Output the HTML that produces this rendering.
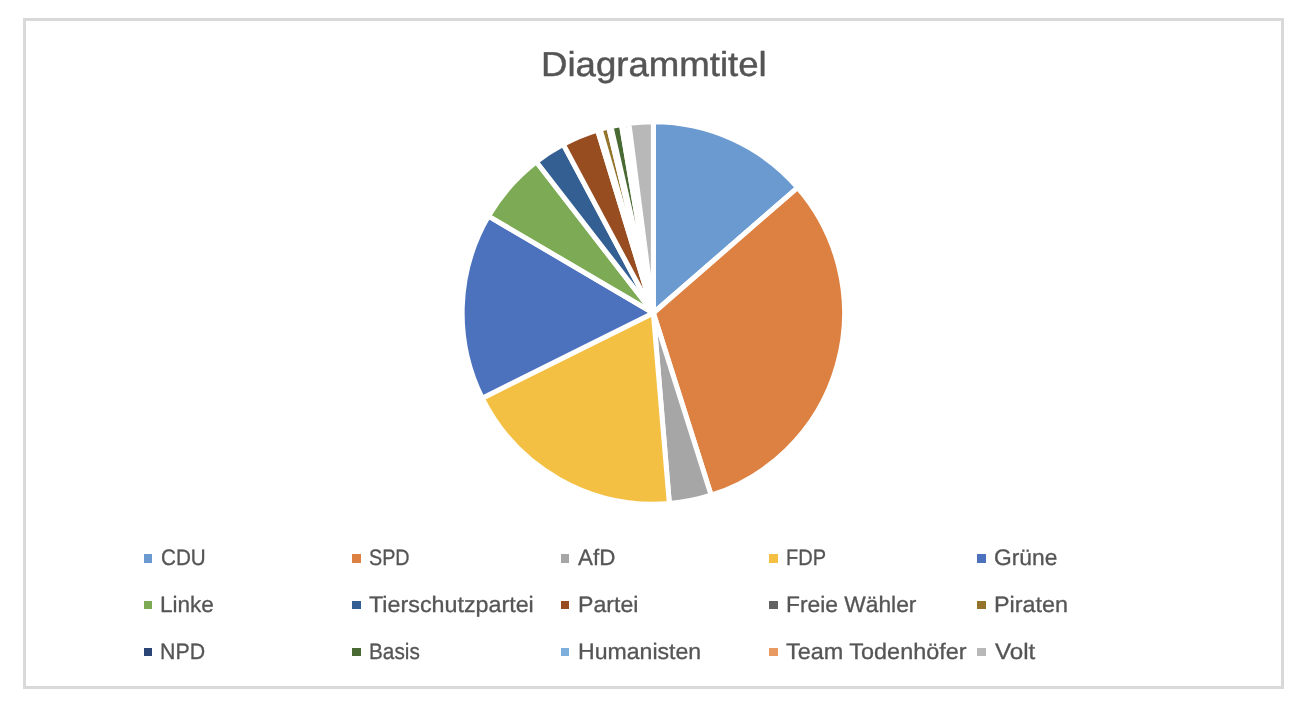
<!DOCTYPE html>
<html lang="de"><head><meta charset="utf-8"><title>Diagrammtitel</title>
<style>
html,body{margin:0;padding:0;background:#fff}
body{width:1308px;height:706px;position:relative;overflow:hidden;font-family:"Liberation Sans",sans-serif;color:#555}
#chart{position:absolute;left:23px;top:18px;width:1255px;height:665px;border:3px solid #d9d9d9;background:#fff}
svg{position:absolute;left:0;top:0}
.m{position:absolute;display:block}
.l,.t{position:absolute;white-space:nowrap;text-rendering:geometricPrecision;line-height:1;transform-origin:0 100%;display:block}
.l{font-size:22.4px;height:22.4px;-webkit-text-stroke:0.3px #555}
.t{font-size:34.6px;height:34.6px;-webkit-text-stroke:0.45px #555}
</style></head>
<body>
<div id="chart"></div>
<svg width="1308" height="706" viewBox="0 0 1308 706">
<g stroke="#fff" stroke-width="5.0" stroke-linejoin="round">
<path d="M653.35 313.00L653.35 121.80A191.20 191.20 0 0 1 797.65 187.56Z" fill="#6a9ad0"/>
<path d="M653.35 313.00L797.65 187.56A191.20 191.20 0 0 1 711.16 495.25Z" fill="#dc8142"/>
<path d="M653.35 313.00L711.16 495.25A191.20 191.20 0 0 1 669.35 503.53Z" fill="#a6a6a6"/>
<path d="M653.35 313.00L669.35 503.53A191.20 191.20 0 0 1 482.16 398.16Z" fill="#f4c043"/>
<path d="M653.35 313.00L482.16 398.16A191.20 191.20 0 0 1 488.52 216.10Z" fill="#4c72be"/>
<path d="M653.35 313.00L488.52 216.10A191.20 191.20 0 0 1 536.32 161.80Z" fill="#7dab55"/>
<path d="M653.35 313.00L536.32 161.80A191.20 191.20 0 0 1 563.29 144.34Z" fill="#335f93"/>
<path d="M653.35 313.00L563.29 144.34A191.20 191.20 0 0 1 597.54 130.13Z" fill="#984d20"/>
<path d="M653.35 313.00L597.54 130.13A191.20 191.20 0 0 1 600.20 129.34Z" fill="#636363"/>
<path d="M653.35 313.00L600.20 129.34A191.20 191.20 0 0 1 608.68 127.09Z" fill="#94732a"/>
<path d="M653.35 313.00L608.68 127.09A191.20 191.20 0 0 1 610.96 126.56Z" fill="#2c4577"/>
<path d="M653.35 313.00L610.96 126.56A191.20 191.20 0 0 1 621.43 124.48Z" fill="#4a6a33"/>
<path d="M653.35 313.00L621.43 124.48A191.20 191.20 0 0 1 623.70 124.11Z" fill="#7eaedb"/>
<path d="M653.35 313.00L623.70 124.11A191.20 191.20 0 0 1 628.89 123.37Z" fill="#e89a62"/>
<path d="M653.35 313.00L628.89 123.37A191.20 191.20 0 0 1 653.35 121.80Z" fill="#b8b8b8"/>
</g>
</svg>
<span class="t" style="left:541.03px;top:83.00px;transform:translateY(-100%) scaleX(1.0582)">Diagrammtitel</span>
<i class="m" style="left:144px;top:554px;width:8px;height:9px;background:#6a9ad0"></i>
<span class="l" style="left:160.58px;top:569.00px;transform:translateY(-100%) scaleX(0.9213)">CDU</span>
<i class="m" style="left:352px;top:554px;width:9px;height:9px;background:#dc8142"></i>
<span class="l" style="left:368.56px;top:569.00px;transform:translateY(-100%) scaleX(0.8823)">SPD</span>
<i class="m" style="left:561px;top:554px;width:8px;height:9px;background:#a6a6a6"></i>
<span class="l" style="left:578.11px;top:569.00px;transform:translateY(-100%) scaleX(0.9986)">AfD</span>
<i class="m" style="left:769px;top:554px;width:9px;height:9px;background:#f4c043"></i>
<span class="l" style="left:785.90px;top:569.00px;transform:translateY(-100%) scaleX(0.8927)">FDP</span>
<i class="m" style="left:977px;top:554px;width:9px;height:9px;background:#4c72be"></i>
<span class="l" style="left:994.44px;top:569.00px;transform:translateY(-100%) scaleX(1.0176)">Grüne</span>
<i class="m" style="left:144px;top:601px;width:8px;height:8px;background:#7dab55"></i>
<span class="l" style="left:159.95px;top:616.00px;transform:translateY(-100%) scaleX(1.0058)">Linke</span>
<i class="m" style="left:352px;top:601px;width:9px;height:8px;background:#335f93"></i>
<span class="l" style="left:369.17px;top:616.00px;transform:translateY(-100%) scaleX(1.0399)">Tierschutzpartei</span>
<i class="m" style="left:561px;top:601px;width:8px;height:8px;background:#984d20"></i>
<span class="l" style="left:577.59px;top:616.00px;transform:translateY(-100%) scaleX(1.0334)">Partei</span>
<i class="m" style="left:769px;top:601px;width:9px;height:8px;background:#636363"></i>
<span class="l" style="left:785.90px;top:616.00px;transform:translateY(-100%) scaleX(1.0175)">Freie Wähler</span>
<i class="m" style="left:977px;top:601px;width:9px;height:8px;background:#94732a"></i>
<span class="l" style="left:993.92px;top:616.00px;transform:translateY(-100%) scaleX(1.0426)">Piraten</span>
<i class="m" style="left:144px;top:648px;width:8px;height:8px;background:#2c4577"></i>
<span class="l" style="left:160.29px;top:663.00px;transform:translateY(-100%) scaleX(0.9533)">NPD</span>
<i class="m" style="left:352px;top:648px;width:9px;height:8px;background:#4a6a33"></i>
<span class="l" style="left:368.96px;top:663.00px;transform:translateY(-100%) scaleX(0.9272)">Basis</span>
<i class="m" style="left:561px;top:648px;width:8px;height:8px;background:#7eaedb"></i>
<span class="l" style="left:577.88px;top:663.00px;transform:translateY(-100%) scaleX(1.0312)">Humanisten</span>
<i class="m" style="left:769px;top:648px;width:9px;height:8px;background:#e89a62"></i>
<span class="l" style="left:785.82px;top:663.00px;transform:translateY(-100%) scaleX(1.0460)">Team Todenhöfer</span>
<i class="m" style="left:977px;top:648px;width:9px;height:8px;background:#b8b8b8"></i>
<span class="l" style="left:995.35px;top:663.00px;transform:translateY(-100%) scaleX(1.0800)">Volt</span>
</body></html>
